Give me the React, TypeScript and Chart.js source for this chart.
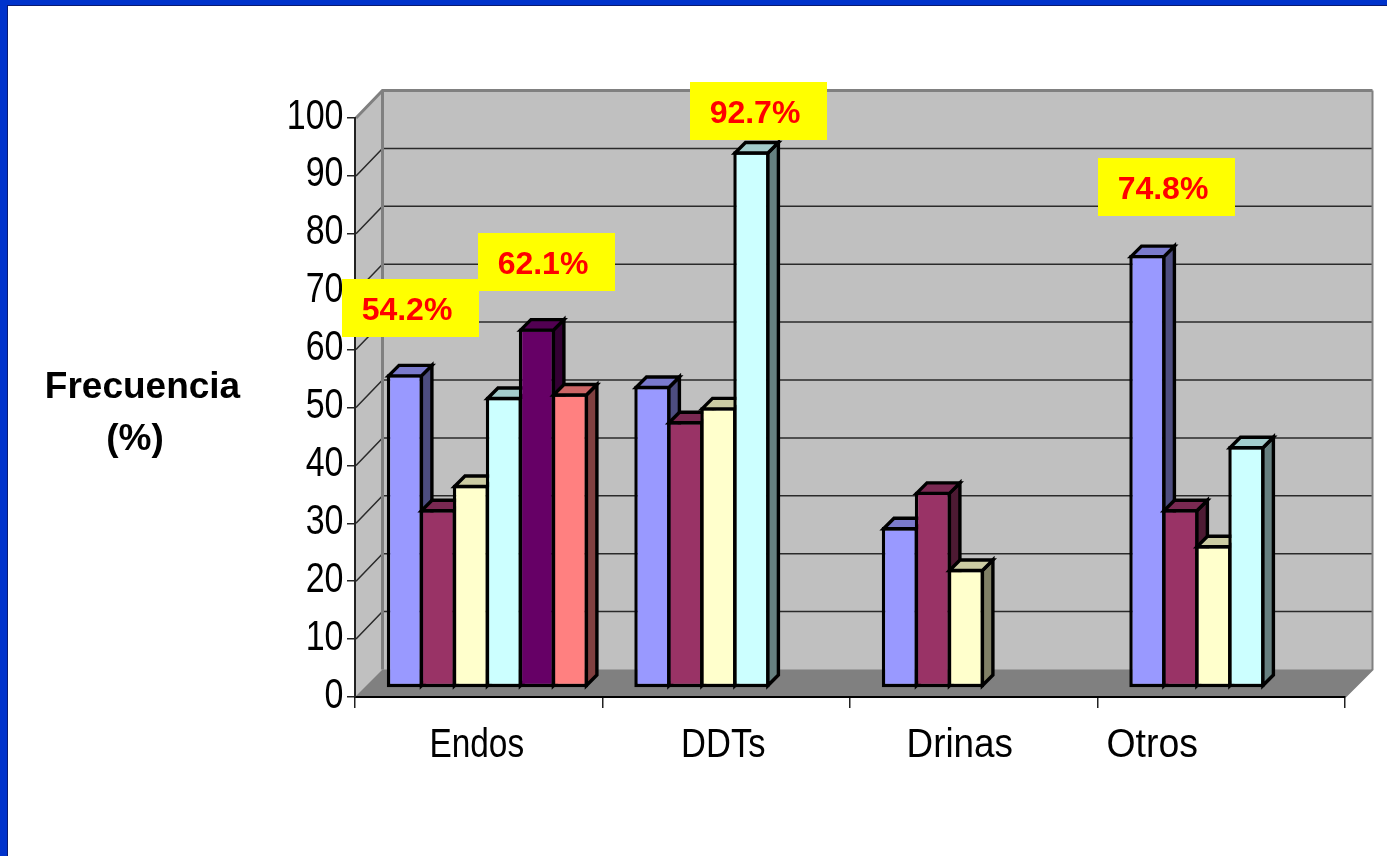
import React, { useEffect, useRef } from "react";
import { Chart, registerables } from "chart.js";

Chart.register(...registerables);

const categories = ["Endos", "DDTs", "Drinas", "Otros"];
const series1 = [54.2, 52.2, 27.8, 74.8];
const series2 = [30.9, 46.1, 33.9, 30.9];
const series3 = [35.1, 48.5, 20.6, 24.7];
const series4 = [50.3, 92.7, null, 41.8];
const series5 = [62.1, null, null, null];
const series6 = [50.9, null, null, null];
const allSeries = [series1, series2, series3, series4, series5, series6];

const palette = [
  [153, 153, 255],
  [153, 51, 102],
  [255, 255, 204],
  [204, 255, 255],
  [102, 0, 102],
  [255, 128, 128],
];

const callouts = [
  { text: "54.2%", x: 342, y: 279 },
  { text: "62.1%", x: 478, y: 233 },
  { text: "92.7%", x: 690, y: 82 },
  { text: "74.8%", x: 1098, y: 158 },
];
const categoryNudge = [-2, -3, -14, -69];
const categoryStretch = [0.835, 0.862, 0.92, 0.935];

const BAR_DX = 8.7;
const BAR_DY = -9;
const DEPTH = 10.5;
const STROKE = 3.4;
const WALL_DX = 27.5;
const WALL_DY = -27.5;
const TICK_STRETCH = 0.81;

const shade = (c: number[], f: number) =>
  `rgb(${Math.round(c[0] * f)},${Math.round(c[1] * f)},${Math.round(c[2] * f)})`;

function narrowText(ctx: any, text: string, x: number, y: number, align: string, stretch: number) {
  ctx.save();
  ctx.translate(x, y);
  ctx.scale(stretch, 1);
  ctx.textAlign = align;
  ctx.fillText(text, 0, 0);
  ctx.restore();
}

const chart3d = {
  id: "chart3d",
  beforeDraw(chart: any) {
    const ctx = chart.ctx;
    ctx.save();
    ctx.fillStyle = "#ffffff";
    ctx.fillRect(0, 0, chart.width, chart.height);
    ctx.fillStyle = "#0033cc";
    ctx.fillRect(0, 0, chart.width, 5);
    ctx.fillRect(0, 0, 7, chart.height);
    ctx.fillStyle = "#0a1a70";
    ctx.fillRect(7, 5, chart.width - 7, 1);
    ctx.fillRect(7, 5, 1, chart.height - 5);
    ctx.restore();
  },
  beforeDatasetsDraw(chart: any) {
    const ctx = chart.ctx;
    const { left, right, top, bottom } = chart.chartArea;
    const yScale = chart.scales.y;
    ctx.save();
    ctx.fillStyle = "#c0c0c0";
    ctx.beginPath();
    ctx.moveTo(left, bottom);
    ctx.lineTo(left, top);
    ctx.lineTo(left + WALL_DX, top + WALL_DY);
    ctx.lineTo(right + WALL_DX, top + WALL_DY);
    ctx.lineTo(right + WALL_DX, bottom + WALL_DY);
    ctx.lineTo(right, bottom);
    ctx.closePath();
    ctx.fill();
    ctx.fillStyle = "#808080";
    ctx.beginPath();
    ctx.moveTo(left, bottom);
    ctx.lineTo(right, bottom);
    ctx.lineTo(right + WALL_DX, bottom + WALL_DY);
    ctx.lineTo(left + WALL_DX, bottom + WALL_DY);
    ctx.closePath();
    ctx.fill();
    ctx.strokeStyle = "#2a2a2a";
    ctx.lineWidth = 1.5;
    yScale.ticks.forEach((t: any) => {
      if (t.value === 0 || t.value === 100) return;
      const y = yScale.getPixelForValue(t.value);
      ctx.beginPath();
      ctx.moveTo(left + 1, y);
      ctx.lineTo(left + WALL_DX, y + WALL_DY);
      ctx.lineTo(right + WALL_DX, y + WALL_DY);
      ctx.stroke();
    });
    ctx.strokeStyle = "#808080";
    ctx.lineWidth = 3;
    ctx.beginPath();
    ctx.moveTo(left + 1, top);
    ctx.lineTo(left + WALL_DX, top + WALL_DY);
    ctx.lineTo(right + WALL_DX, top + WALL_DY);
    ctx.moveTo(left + WALL_DX, top + WALL_DY);
    ctx.lineTo(left + WALL_DX, bottom + WALL_DY);
    ctx.stroke();
    ctx.lineWidth = 2;
    ctx.beginPath();
    ctx.moveTo(right + WALL_DX, top + WALL_DY);
    ctx.lineTo(right + WALL_DX, bottom + WALL_DY);
    ctx.lineTo(right, bottom);
    ctx.stroke();
    ctx.restore();
  },
  // the library would paint the rightmost bars first; here the left ones must be under the right ones
  beforeDatasetDraw() {
    return false;
  },
  afterDatasetsDraw(chart: any) {
    const ctx = chart.ctx;
    const half = STROKE / 2;
    allSeries.forEach((values, index) => {
      const meta = chart.getDatasetMeta(index);
      const color = palette[index];
      ctx.save();
      ctx.translate(BAR_DX, BAR_DY);
      meta.controller.draw();
      meta.data.forEach((bar: any, i: number) => {
        if (values[i] === null) return;
        const r = bar.x + bar.width / 2 - half;
        const t = bar.y + half;
        const l = bar.x - bar.width / 2 + half;
        const b = bar.base - half;
        ctx.lineWidth = STROKE;
        ctx.lineJoin = "miter";
        ctx.strokeStyle = "#000000";
        ctx.fillStyle = shade(color, 0.5);
        ctx.beginPath();
        ctx.moveTo(r, t);
        ctx.lineTo(r + DEPTH, t - DEPTH);
        ctx.lineTo(r + DEPTH, b - DEPTH);
        ctx.lineTo(r, b);
        ctx.closePath();
        ctx.fill();
        ctx.stroke();
        ctx.fillStyle = shade(color, 0.8);
        ctx.beginPath();
        ctx.moveTo(l, t);
        ctx.lineTo(l + DEPTH, t - DEPTH);
        ctx.lineTo(r + DEPTH, t - DEPTH);
        ctx.lineTo(r, t);
        ctx.closePath();
        ctx.fill();
        ctx.stroke();
      });
      ctx.restore();
    });
  },
  afterDraw(chart: any) {
    const ctx = chart.ctx;
    const xScale = chart.scales.x;
    const yScale = chart.scales.y;
    ctx.save();
    ctx.fillStyle = "#000000";
    ctx.textBaseline = "middle";
    // value axis labels
    ctx.font = '42px "Liberation Sans"';
    yScale.ticks.forEach((t: any) => {
      narrowText(ctx, String(t.label), 343.5, yScale.getPixelForValue(t.value) - 1, "right", TICK_STRETCH);
    });
    // category labels
    ctx.font = '40px "Liberation Sans"';
    categories.forEach((c, i) => {
      narrowText(ctx, c, xScale.getPixelForTick(i) + categoryNudge[i], 746, "center", categoryStretch[i]);
    });
    // axis title
    ctx.textAlign = "center";
    ctx.font = 'bold 37px "Liberation Sans"';
    ctx.fillText("Frecuencia", 142.5, 388);
    ctx.fillText("(%)", 135, 440);
    // callouts
    ctx.font = 'bold 32px "Liberation Sans"';
    callouts.forEach((c) => {
      ctx.fillStyle = "#ffff00";
      ctx.fillRect(c.x, c.y, 137, 58);
      ctx.fillStyle = "#ff0000";
      ctx.fillText(c.text, c.x + 65, c.y + 32);
    });
    ctx.restore();
  },
};

export default function App() {
  const ref = useRef<HTMLCanvasElement>(null);
  useEffect(() => {
    const chart = new Chart(ref.current as HTMLCanvasElement, {
      type: "bar",
      data: {
        labels: categories,
        datasets: allSeries.map((values, i) => ({
          label: `Serie ${i + 1}`,
          data: values,
          clip: false,
          backgroundColor: shade(palette[i], 1),
          borderColor: "#000000",
          borderWidth: STROKE,
          borderSkipped: false,
          inflateAmount: 0,
          categoryPercentage: 0.8,
          barPercentage: 1.1,
        })),
      } as any,
      options: {
        responsive: false,
        animation: false,
        layout: { padding: { top: 118, right: 42, left: 0, bottom: 0 } },
        plugins: { legend: { display: false }, tooltip: { enabled: false }, title: { display: false } },
        scales: {
          x: {
            type: "category",
            offset: true,
            afterFit: (s: any) => {
              s.height = 159;
            },
            grid: {
              offset: true,
              drawOnChartArea: false,
              drawTicks: true,
              tickLength: 11,
              color: "#222222",
              lineWidth: 1.5,
              z: 1,
            },
            border: { display: true, color: "#000000", width: 2, z: 1 },
            ticks: { display: false },
          },
          y: {
            min: 0,
            max: 100,
            afterFit: (s: any) => {
              s.width = 355;
            },
            grid: {
              drawOnChartArea: false,
              drawTicks: true,
              tickLength: 8,
              color: "#222222",
              lineWidth: 1.5,
              z: 1,
            },
            border: { display: true, color: "#222222", width: 2, z: 1 },
            ticks: { stepSize: 10, display: false },
          },
        },
      } as any,
      plugins: [chart3d],
    });
    return () => chart.destroy();
  }, []);
  return (
    <div style={{ position: "fixed", left: 0, top: 0, width: 1387, height: 856 }}>
      <canvas ref={ref} width={1387} height={856} style={{ display: "block" }} />
    </div>
  );
}
